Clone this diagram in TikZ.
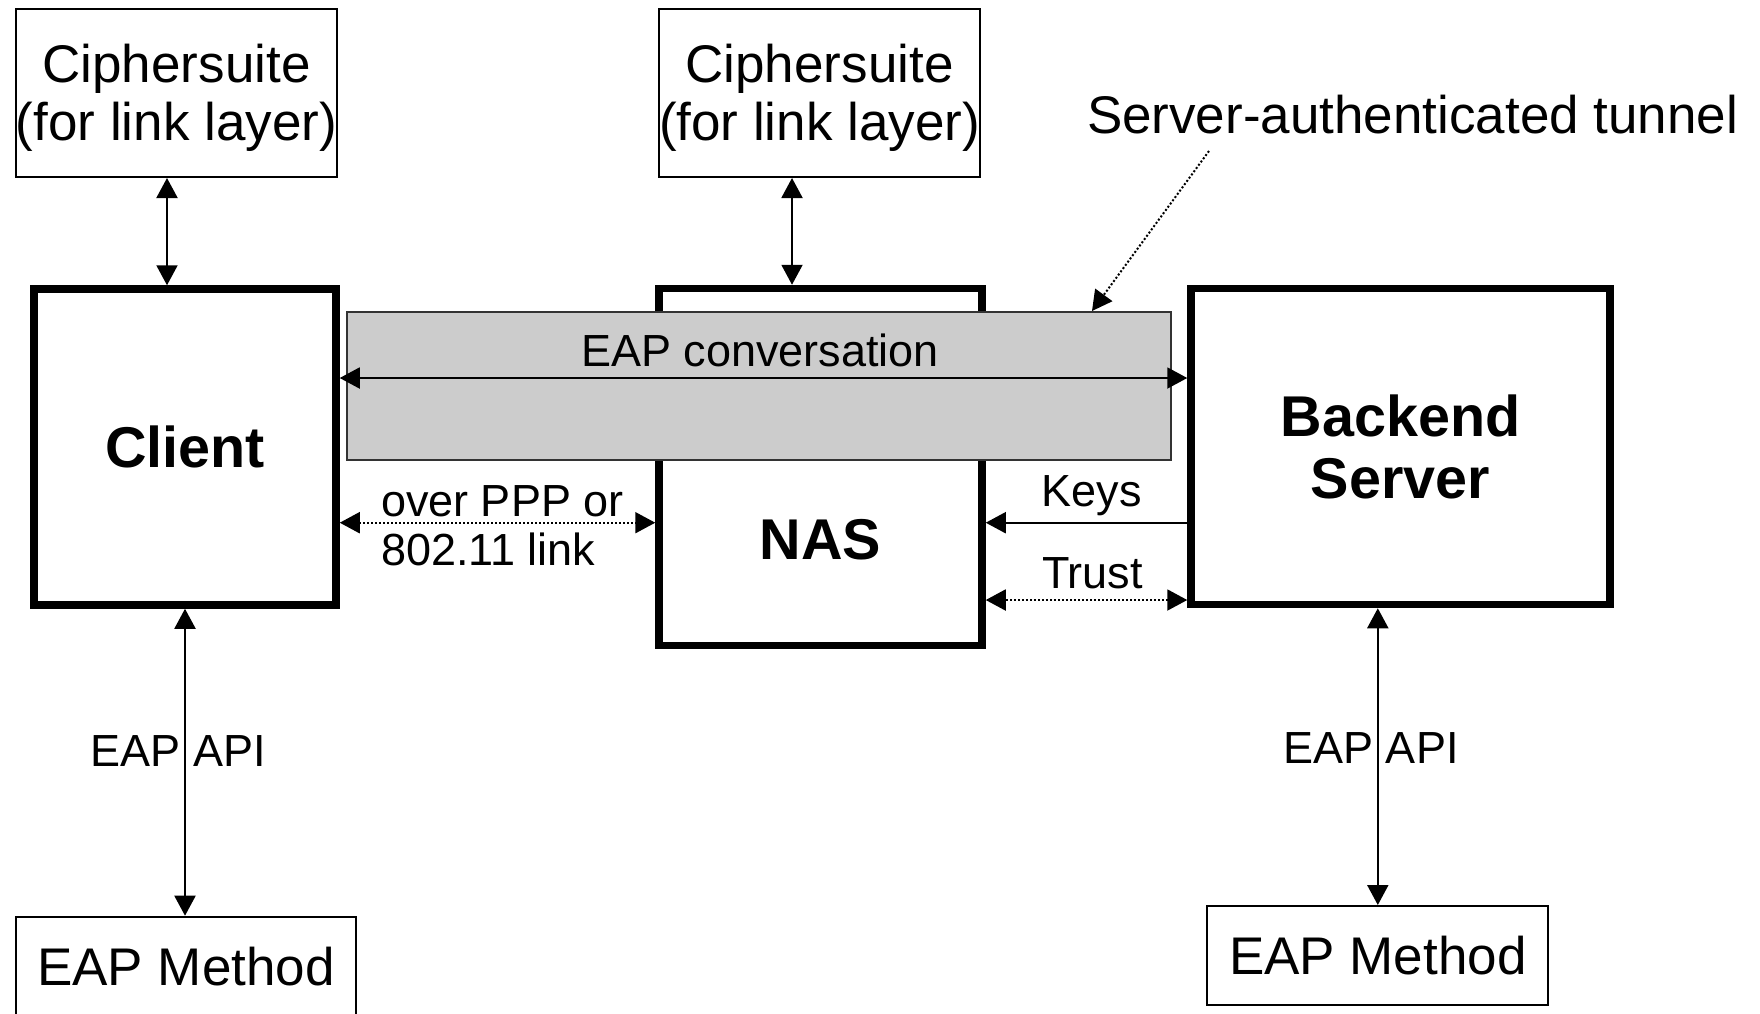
\documentclass[tikz,border=0pt]{standalone}
\usepackage{fontspec}
\setmainfont{Liberation Sans}
\usepackage{tikz}
\newcommand{\boxfont}{\fontsize{26.5}{29}\selectfont}
\newcommand{\labelfont}{\fontsize{22.5}{24.5}\selectfont}
\newcommand{\corefont}{\fontsize{28.75}{31}\selectfont\bfseries}
\newcommand{\cipherlabel}{\rule{0pt}{24pt}Ciphersuite\\(for link layer)}
\tikzstyle{dotlink} = [dash pattern=on 1pt off 1pt]
\tikzstyle{twoway} = [{Triangle[length=10pt,width=10.5pt]}-{Triangle[length=10pt,width=10.5pt]}]
\tikzstyle{oneway} = [-{Triangle[length=10pt,width=10.5pt]}]
\usetikzlibrary{arrows.meta}
\usetikzlibrary{positioning}

\begin{document}
\begin{tikzpicture}[x=0.5pt, y=-0.5pt,
                      line width=1pt,
                      small node/.style={draw,line width=1pt,inner sep=0pt,align=center,font=\boxfont,minimum width=160pt,minimum height=84pt},
                      main node/.style={draw,line width=3.75pt,inner sep=0pt,align=center,font=\corefont},
                      tunnel node/.style={draw=black!80,fill=black!20,line width=1pt,inner sep=0pt,minimum width=412pt,minimum height=74pt},
                      label node/.style={inner sep=0pt,font=\labelfont}]

        \useasboundingbox (0,0) rectangle (1760,1013);

        \node[small node] (cipherA) at (176.5,93) {\cipherlabel};
        \node[small node] (cipherB) at (819.5,93) {\cipherlabel};
        \node[main node, minimum width=151pt, minimum height=158pt] (client) at (185,447) {Client};
        \node[main node, minimum width=161.5pt, minimum height=178.5pt] (nas) at (820.5,467) {};
        \node[main node, font=\corefont] at ([yshift=-36.25pt]nas.center) [draw=none] {NAS};
        \node[main node, minimum width=209.5pt, minimum height=158pt] (backend) at (1400.5,446.5) {Backend\\Server};
        \node[small node, minimum width=170pt, minimum height=50pt] (methodA) at (186,966.7) {EAP Method};
        \node[small node, minimum width=170.5pt, minimum height=49.5pt] (methodB) at (1377.8,955.5) {EAP Method};

        \node[tunnel node] (tunnel) at (759,386) {};
        \node[label node, anchor=base] (conv) at (760,366.7) {EAP conversation};
        \node[inner sep=0pt, font=\boxfont, anchor=base west] (tunneltext) at (1086,133) {Server-authenticated tunnel};
        \coordinate (tail) at (1209,151);

        \node[label node, anchor=west, align=left] (link) at (380,525.5) {over PPP or\\802.11 link};
        \node[label node, anchor=base] (keys) at (1091.5,506) {Keys};
        \node[label node, anchor=base] (trust) at (1092.5,588) {Trust};
        \node[label node, anchor=base] (apiA) at (178.5,766.7) {EAP API};
        \node[label node, anchor=base] (apiB) at (1371,763) {EAP API};

        \draw[twoway] ([xshift=-4.75pt]cipherA.south) -- ([xshift=-4.75pt]cipherA.south |- client.north);
        \draw[twoway] ([xshift=-13.75pt]cipherB.south) -- ([xshift=-13.75pt]cipherB.south |- nas.north);
        \draw[twoway] (client.south) -- (client.south |- methodA.north);
        \draw[twoway] (methodB.north |- backend.south) -- (methodB.north);
        \draw[twoway] ([yshift=34.5pt]client.east) -- ([yshift=34.5pt]client.east -| backend.west);

        \path[dotlink]
        ([yshift=-37.85pt]client.east) edge[twoway] ([yshift=-37.85pt]client.east -| nas.west)
        ([yshift=-76.75pt]backend.west) edge[twoway] ([yshift=-76.75pt]backend.west -| nas.east)
        (tail) edge[oneway] ([xshift=166.5pt]tunnel.north)
        ;

        \draw[oneway] ([yshift=-38.1pt]backend.west) -- ([yshift=-38.1pt]backend.west -| nas.east);
    \end{tikzpicture}
\end{document}
